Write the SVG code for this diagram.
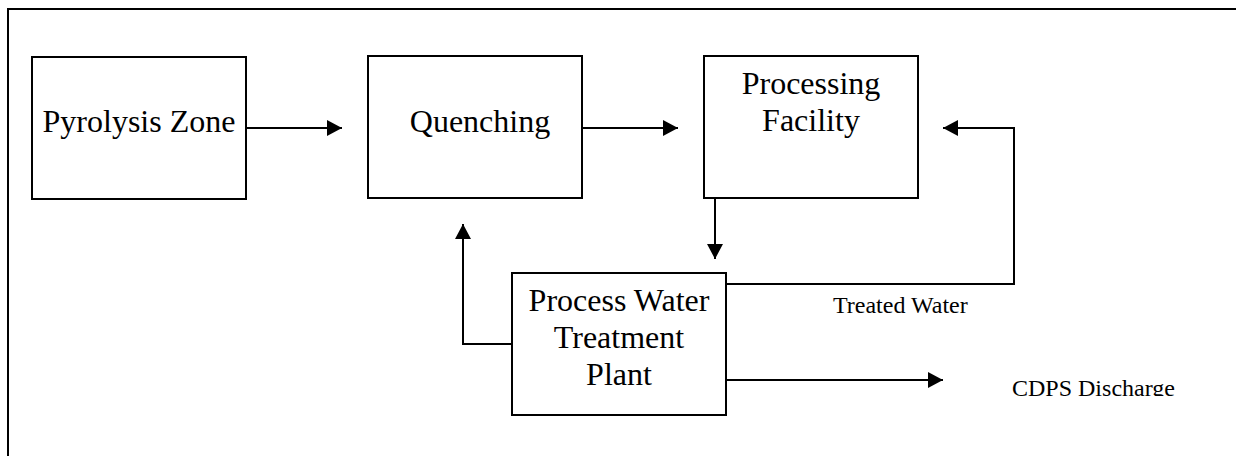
<svg xmlns="http://www.w3.org/2000/svg" width="1236" height="456" viewBox="0 0 1236 456">
<style>
.box{fill:#fff;stroke:#000;stroke-width:2}
.lbl{font-family:"Liberation Serif","Times New Roman",serif;font-size:32px;fill:#000;text-anchor:middle}
.sm{font-family:"Liberation Serif","Times New Roman",serif;font-size:24px;fill:#000}
.ln{fill:none;stroke:#000;stroke-width:2}
</style>
<defs>
<marker id="ah" viewBox="0 0 15 16" refX="15" refY="8" markerWidth="15" markerHeight="16" markerUnits="userSpaceOnUse" orient="auto">
<path d="M0,0 L15,8 L0,16 Z" fill="#000"/>
</marker>
<clipPath id="c1"><rect x="800" y="280" width="200" height="34"/></clipPath>
<clipPath id="c2"><rect x="1000" y="360" width="200" height="36"/></clipPath>
</defs>
<rect width="1236" height="456" fill="#fff"/>
<path class="ln" d="M8,456 V9 H1236"/>
<g id="pyrolysis">
<rect class="box" x="32" y="57" width="214" height="142"/>
<text class="lbl" x="139" y="132">Pyrolysis Zone</text>
</g>
<g id="quenching">
<rect class="box" x="368" y="56" width="214" height="142"/>
<text class="lbl" x="480" y="132">Quenching</text>
</g>
<g id="processing">
<rect class="box" x="704" y="56" width="214" height="142"/>
<text class="lbl" x="811" y="94">Processing</text>
<text class="lbl" x="811" y="131">Facility</text>
</g>
<g id="pwtp">
<rect class="box" x="512" y="273" width="214" height="142"/>
<text class="lbl" x="619" y="311">Process Water</text>
<text class="lbl" x="619" y="348">Treatment</text>
<text class="lbl" x="619" y="385">Plant</text>
</g>
<g id="labels">
<text class="sm" x="833" y="313" clip-path="url(#c1)">Treated Water</text>
<text class="sm" x="1012" y="396" clip-path="url(#c2)">CDPS Discharge</text>
</g>
<g id="connectors">
<path class="ln" d="M246,128 H342" marker-end="url(#ah)"/>
<path class="ln" d="M582,128 H678" marker-end="url(#ah)"/>
<path class="ln" d="M715,198 V259" marker-end="url(#ah)"/>
<path class="ln" d="M726,284 H1014 V128 H943" marker-end="url(#ah)"/>
<path class="ln" d="M512,344 H463 V224" marker-end="url(#ah)"/>
<path class="ln" d="M726,380 H943" marker-end="url(#ah)"/>
</g>
</svg>
